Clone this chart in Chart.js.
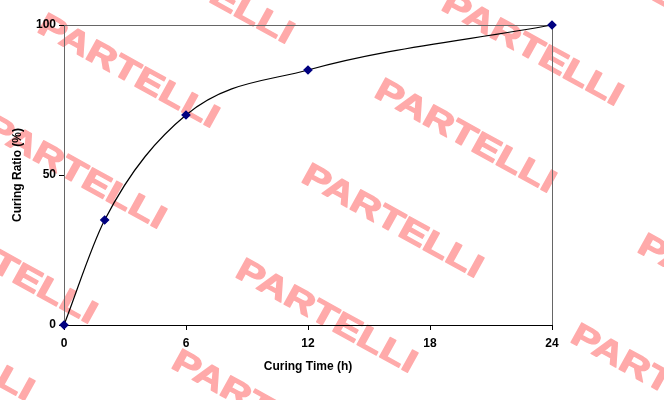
<!DOCTYPE html>
<html>
<head>
<meta charset="utf-8">
<script src="https://cdn.jsdelivr.net/npm/chart.js@4/dist/chart.umd.min.js"></script>
<style>
  html, body { margin: 0; padding: 0; background: #fff; }
  #wrap { width: 664px; height: 400px; position: relative; }
</style>
</head>
<body>
<div id="wrap"><canvas id="curingChart"></canvas></div>
<script>
// data
const curingHours = [0, 2, 6, 12, 24];
const curingRatio = [0, 35, 70, 85, 100];
const xTicks = [0, 6, 12, 18, 24];
const yTicks = [0, 50, 100];

// watermark positions (centre of each word)
const stampText = 'PARTELLI';
const stampSpots = [
    [203, -12], [128, 72], [75, 173], [6, 268], [-57, 345],
    [599, -40], [532, 50], [465, 137], [392, 222], [326, 317], [262, 408],
    [728, 292], [661, 382]
];

const font = { family: '"Liberation Sans", Arial, sans-serif', size: 12, weight: 'bold' };

// pink stamp behind the chart
const stampPlugin = {
    id: 'stamp',
    beforeDraw(chart) {
        const ctx = chart.ctx;
        ctx.save();
        ctx.fillStyle = '#ffaaaa';
        ctx.strokeStyle = '#ffaaaa';
        ctx.lineWidth = 1.5;
        ctx.lineJoin = 'round';
        ctx.font = 'bold 38px "Liberation Sans", Arial, sans-serif';
        ctx.textAlign = 'center';
        ctx.textBaseline = 'middle';
        stampSpots.forEach(([x, y]) => {
            ctx.save();
            ctx.translate(x, y);
            ctx.rotate(29 * Math.PI / 180);
            ctx.scale(1.1, 0.85);
            ctx.fillText(stampText, 0, 0);
            ctx.strokeText(stampText, 0, 0);
            ctx.restore();
        });
        ctx.restore();
    }
};

// grey top and right edges of the plot box
const boxPlugin = {
    id: 'box',
    beforeDatasetsDraw(chart) {
        const { ctx, chartArea: a } = chart;
        ctx.save();
        ctx.strokeStyle = '#666';
        ctx.lineWidth = 1;
        ctx.beginPath();
        ctx.moveTo(a.left, a.top + 0.5);
        ctx.lineTo(a.right + 0.5, a.top + 0.5);
        ctx.lineTo(a.right + 0.5, a.bottom);
        ctx.stroke();
        ctx.restore();
    }
};

new Chart(document.getElementById('curingChart'), {
    type: 'line',
    data: {
        datasets: [{
            data: curingHours.map((h, i) => ({ x: h, y: curingRatio[i] })),
            borderColor: '#000',
            borderWidth: 1.2,
            cubicInterpolationMode: 'monotone',
            pointStyle: 'rectRot',
            pointRadius: 4,
            pointBackgroundColor: '#000080',
            pointBorderColor: '#000080',
            clip: false
        }]
    },
    options: {
        responsive: true,
        maintainAspectRatio: false,
        animation: false,
        layout: { padding: { top: 25, right: 112, left: 0, bottom: 0 } },
        plugins: { legend: { display: false }, tooltip: { enabled: false } },
        scales: {
            x: {
                type: 'linear',
                min: 0,
                max: 24,
                afterBuildTicks: scale => { scale.ticks = xTicks.map(v => ({ value: v })); },
                afterFit: scale => { scale.height = 75; },
                grid: { drawOnChartArea: false, tickLength: 5, color: '#000' },
                border: { color: '#000', width: 1 },
                ticks: { color: '#000', font: font, padding: 6, maxRotation: 0 },
                title: {
                    display: true,
                    text: 'Curing Time (h)',
                    color: '#000',
                    font: font,
                    padding: { top: 0, bottom: 26 }
                }
            },
            y: {
                min: 0,
                max: 100,
                afterBuildTicks: scale => { scale.ticks = yTicks.map(v => ({ value: v })); },
                afterFit: scale => { scale.width = 64; },
                grid: { drawOnChartArea: false, tickLength: 5, color: '#000' },
                border: { color: '#666', width: 1 },
                ticks: { color: '#000', font: font, padding: 3 },
                title: {
                    display: true,
                    text: 'Curing Ratio (%)',
                    color: '#000',
                    font: font,
                    padding: { top: 10, bottom: 0 }
                }
            }
        }
    },
    plugins: [stampPlugin, boxPlugin]
});
</script>
</body>
</html>
